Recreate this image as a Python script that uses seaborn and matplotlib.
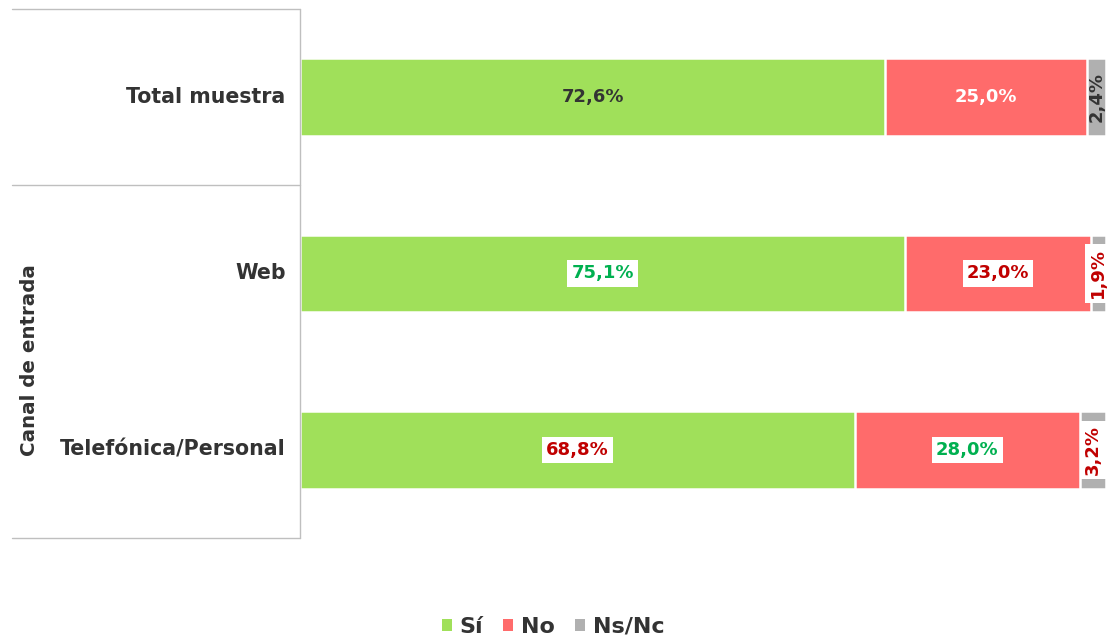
import numpy as np
import pandas as pd
import matplotlib.pyplot as plt
import seaborn as sns
from matplotlib.patches import Patch
from matplotlib.lines import Line2D

categories = ['Total muestra', 'Web', 'Telefónica/Personal']
si = [72.6, 75.1, 68.8]
no = [25.0, 23.0, 28.0]
nsnc = [2.4, 1.9, 3.2]
series_names = ['Sí', 'No', 'Ns/Nc']

# label styling per cell: (text colour, white box?)
label_colors = {
    'Sí': ['#333333', '#00B050', '#C00000'],
    'No': ['white', '#C00000', '#00B050'],
    'Ns/Nc': ['#333333', '#C00000', '#C00000'],
}
label_box = [False, True, True]

green = '#A0E05A'
red = '#FF6B6B'
gray = '#B0B0B0'
dark = '#333333'

sns.set_theme(style='white')
plt.rcParams['font.family'] = ['DejaVu Sans']

df = pd.DataFrame({'cat': categories, 'si': si, 'no': no, 'nsnc': nsnc})
df['c1'] = df['si']
df['c2'] = df['si'] + df['no']
df['c3'] = df['si'] + df['no'] + df['nsnc']

fig = plt.figure(figsize=(11.13, 6.4), dpi=100)
ax = fig.add_axes([300 / 1113, 1 - 538 / 640, 806 / 1113, 529 / 640])

for col, color in [('c3', gray), ('c2', red), ('c1', green)]:
    sns.barplot(data=df, x=col, y='cat', orient='h', color=color, width=0.44,
                edgecolor='white', linewidth=1.8, ax=ax, saturation=1)

ax.set_xlim(0, 100)
ax.set_ylim(2.5, -0.5)
ax.set_xticks([])
ax.set_yticks([])
ax.set_xlabel('')
ax.set_ylabel('')
for s in ax.spines.values():
    s.set_visible(False)

fs = 13
for i in range(len(categories)):
    starts = [0, si[i], si[i] + no[i]]
    vals = [si[i], no[i], nsnc[i]]
    for j, name in enumerate(series_names):
        x = starts[j] + vals[j] / 2
        txt = f'{vals[j]:.1f}%'.replace('.', ',')
        bbox = dict(facecolor='white', edgecolor='none', pad=3) if label_box[i] else None
        ax.text(x, i, txt, ha='center', va='center', fontsize=fs, fontweight='bold',
                color=label_colors[name][i], rotation=90 if j == 2 else 0, bbox=bbox)

# category table on the left
x0, x1 = 12 / 1113, 300 / 1113
line_kw = dict(color='#BFBFBF', linewidth=1.0, transform=fig.transFigure)
for yy in [9, 185, 538]:
    fig.add_artist(Line2D([x0, x1], [1 - yy / 640, 1 - yy / 640], **line_kw))
fig.add_artist(Line2D([x1, x1], [1 - 9 / 640, 1 - 538 / 640], **line_kw))

for i, cat in enumerate(categories):
    ax.text(-1.8, i, cat, ha='right', va='center', fontsize=14.8,
            fontweight='bold', color=dark)

fig.text(30 / 1113, 1 - 360 / 640, 'Canal de entrada', rotation=90, ha='center',
         va='center', fontsize=14.3, fontweight='bold', color=dark)

handles = [Patch(facecolor=c, edgecolor='none') for c in [green, red, gray]]
leg = fig.legend(handles, series_names, loc='center', bbox_to_anchor=(0.497, 1 - 627 / 640),
                 ncol=3, frameon=False, handlelength=0.45, handleheight=0.45,
                 handletextpad=0.35, columnspacing=0.9, fontsize=16)
for t in leg.get_texts():
    t.set_fontweight('bold')
    t.set_color(dark)

fig.savefig('out.png', dpi=100)
